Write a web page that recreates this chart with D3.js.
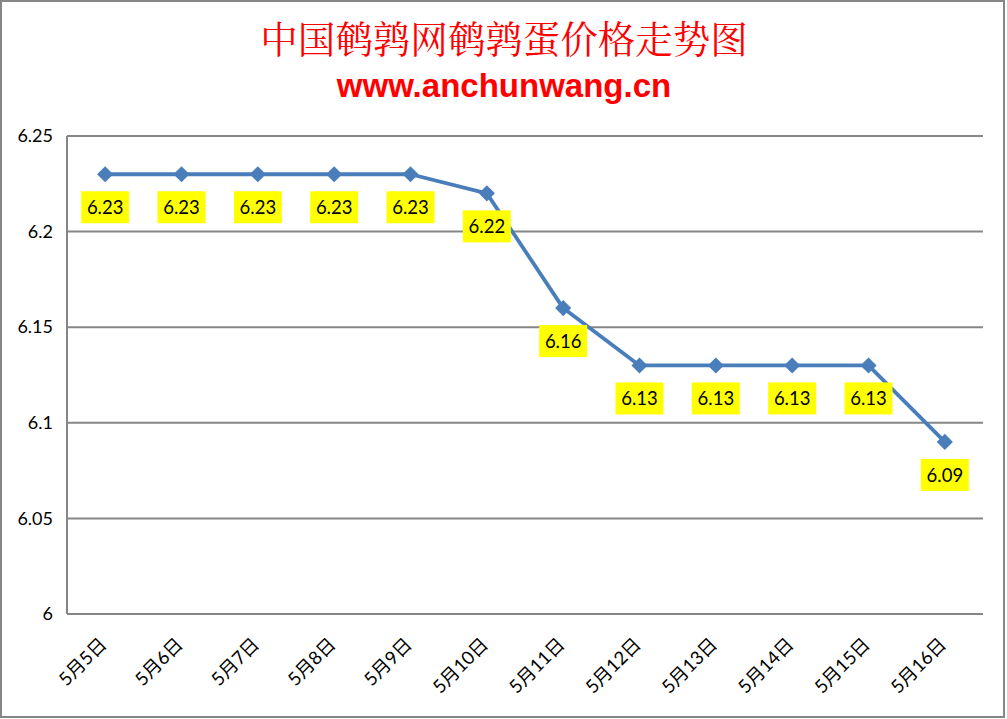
<!DOCTYPE html>
<html><head><meta charset="utf-8">
<script src="https://cdn.jsdelivr.net/npm/d3@7"></script>
<style>body{margin:0;background:#fff}svg{display:block}</style>
</head><body>
<svg id="c" width="1007" height="719"></svg>
<script>
const categories = ["5月5日","5月6日","5月7日","5月8日","5月9日","5月10日","5月11日","5月12日","5月13日","5月14日","5月15日","5月16日"];
const prices = [6.23,6.23,6.23,6.23,6.23,6.22,6.16,6.13,6.13,6.13,6.13,6.09];
const yTicks = [6,6.05,6.1,6.15,6.2,6.25];
const title = "中国鹌鹑网鹌鹑蛋价格走势图";
const subtitle = "www.anchunwang.cn";

const svg = d3.select("#c");
const m={l:67,r:983,t:136,b:614};
svg.append("rect").attr("x",1).attr("y",1).attr("width",1003).attr("height",716)
  .attr("fill","#fff").attr("stroke","#868686").attr("stroke-width",2);

const x = d3.scaleBand().domain(categories).range([m.l,m.r]);
const y = d3.scaleLinear().domain([6,6.25]).range([m.b,m.t]);

svg.append("g").selectAll("line").data(yTicks).join("line")
  .attr("x1",m.l).attr("x2",m.r).attr("y1",d=>y(d)).attr("y2",d=>y(d))
  .attr("stroke","#868686").attr("stroke-width",2);
svg.append("line").attr("x1",m.l).attr("x2",m.l).attr("y1",m.t).attr("y2",m.b)
  .attr("stroke","#868686").attr("stroke-width",2);

const yAxis = d3.axisLeft(y).tickValues(yTicks).tickFormat(d=>String(d)).tickSize(0).tickPadding(14);
const gy = svg.append("g").attr("transform",`translate(${m.l},0)`).call(yAxis);
gy.select(".domain").remove();
gy.selectAll("text").attr("font-family","Lato, 'Open Sans', sans-serif").attr("font-size",18).attr("fill","#000");

const xAxis = d3.axisBottom(x).tickSize(0).tickPadding(0);
const gx = svg.append("g").attr("transform",`translate(0,${m.b})`).call(xAxis);
gx.select(".domain").remove();
gx.selectAll("text")
  .attr("font-family","Lato, 'Noto Sans CJK SC', sans-serif").attr("font-size",18.5).attr("fill","#000")
  .attr("text-anchor","end").attr("dy","0.35em")
  .attr("transform","translate(-2,27) rotate(-45)");

const cx = d=>x(d)+x.bandwidth()/2;
const pts = categories.map((c,i)=>({c,v:prices[i]}));
svg.append("path").datum(pts)
  .attr("d",d3.line().x(d=>cx(d.c)).y(d=>y(d.v)))
  .attr("fill","none").attr("stroke","#4A7EBB").attr("stroke-width",3.8).attr("stroke-linejoin","round");
svg.append("g").selectAll("path").data(pts).join("path")
  .attr("d",d3.symbol(d3.symbolSquare,130)())
  .attr("transform",d=>`translate(${cx(d.c)},${y(d.v)}) rotate(45)`)
  .attr("fill","#4A7EBB");

const lab = svg.append("g").selectAll("g").data(pts).join("g")
  .attr("transform",d=>`translate(${cx(d.c)},${y(d.v)+33})`);
lab.append("rect").attr("x",-24).attr("y",-16).attr("width",48).attr("height",32).attr("fill","#FFFF00");
lab.append("text").text(d=>d.v.toFixed(2)).attr("text-anchor","middle").attr("dy","0.36em")
  .attr("font-family","Lato, 'Open Sans', sans-serif").attr("font-size",18.5).attr("fill","#000");

svg.append("text").text(title).attr("x",504).attr("y",53).attr("text-anchor","middle")
  .attr("font-family","'Noto Serif CJK SC','Noto Sans CJK SC', serif").attr("font-size",37.5).attr("fill","#FF0000");
svg.append("text").text(subtitle).attr("x",504).attr("y",97).attr("text-anchor","middle")
  .attr("font-family","'Liberation Sans', Arial, sans-serif").attr("font-weight","bold").attr("font-size",33).attr("fill","#FF0000");
</script>
</body></html>
